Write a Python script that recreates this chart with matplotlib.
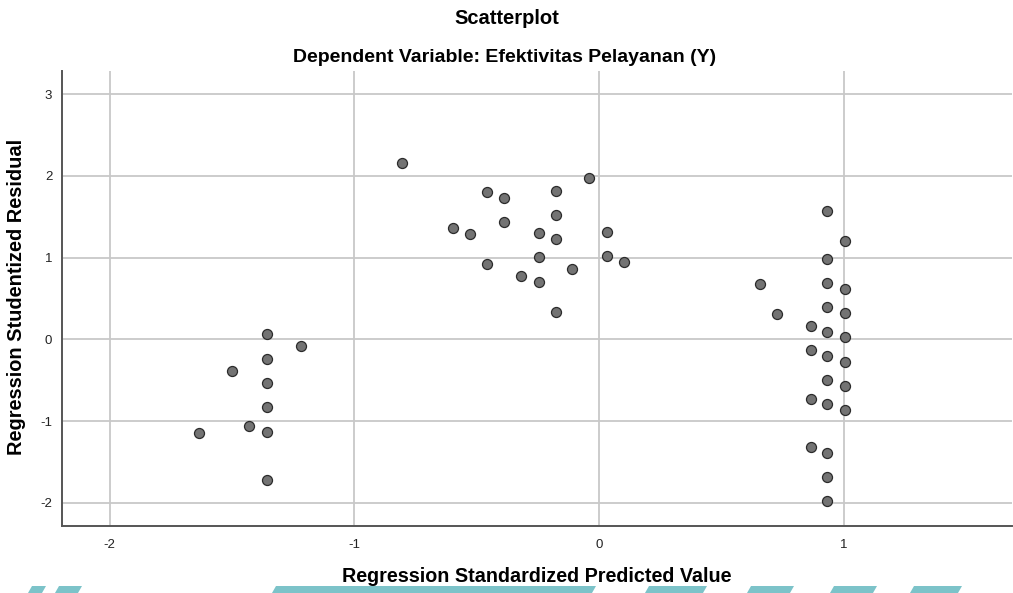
import matplotlib
matplotlib.use("Agg")
import matplotlib.pyplot as plt
from matplotlib.patches import Polygon

plt.rcParams['font.family'] = ['Liberation Sans', 'DejaVu Sans']

# Data
pred = [-1.358, -1.219, -1.358, -1.499, -1.358, -1.358, -1.429, -1.358, -1.636, -1.358,
        -0.804, -0.040, -0.456, -0.177, -0.387, -0.177, -0.387, -0.595, -0.526, -0.247,
        -0.177, 0.031, -0.247, 0.031, 0.101, -0.456, -0.109, -0.318, -0.247, -0.177,
        0.933, 1.004, 0.933, 0.657, 0.933, 1.004, 0.726, 0.933, 1.004, 0.865,
        0.933, 1.004, 0.865, 0.933, 1.004, 0.933, 1.004, 0.865, 0.933, 1.004,
        0.865, 0.933, 0.933, 0.933]
resid = [0.065, -0.078, -0.237, -0.392, -0.531, -0.829, -1.057, -1.131, -1.147, -1.726,
         2.162, 1.971, 1.807, 1.815, 1.733, 1.518, 1.436, 1.358, 1.285, 1.297,
         1.228, 1.310, 1.004, 1.016, 0.942, 0.918, 0.864, 0.779, 0.705, 0.338,
         1.574, 1.207, 0.983, 0.673, 0.685, 0.619, 0.306, 0.392, 0.318, 0.167,
         0.093, 0.024, -0.135, -0.200, -0.274, -0.498, -0.572, -0.727, -0.796, -0.866,
         -1.318, -1.392, -1.685, -1.983]
xticks = [-2, -1, 0, 1]
yticks = [-2, -1, 0, 1, 2, 3]

W, H = 1013, 593
fig = plt.figure(figsize=(W / 100, H / 100), dpi=100)
ax = fig.add_axes([62 / W, 1 - 526 / H, (1012 - 62) / W, (526 - 71) / H])

ax.set_xlim(-2.195, 1.688)
ax.set_ylim(-2.285, 3.284)
ax.set_xticks(xticks)
ax.set_yticks(yticks)
ax.set_xticklabels([str(t) for t in xticks])
ax.set_yticklabels([str(t) for t in yticks])
ax.grid(True, color='#c8c8c8', linewidth=1.3)
ax.set_axisbelow(True)
ax.tick_params(length=0, labelsize=9.5, colors='#222222', pad=9)
ax.tick_params(axis='y', pad=7)
for s in ['top', 'right']:
    ax.spines[s].set_visible(False)
for s in ['left', 'bottom']:
    ax.spines[s].set_color('#555555')
    ax.spines[s].set_linewidth(1.4)

ax.scatter(pred, resid, s=52, facecolor='#737373', edgecolor='#2b2b2b',
           linewidths=0.9, zorder=3)

fig.text(507 / W, 1 - 18 / H, 'Scatterplot', ha='center', va='center',
         fontsize=14.5, fontweight='bold')
fig.text(505 / W, 1 - 57 / H, 'Dependent Variable: Efektivitas Pelayanan (Y)',
         ha='center', va='center', fontsize=14, fontweight='bold')
fig.text(537 / W, 1 - 577 / H, 'Regression Standardized Predicted Value',
         ha='center', va='center', fontsize=14.2, fontweight='bold')
fig.text(17 / W, 1 - 297 / H, 'Regression Studentized Residual',
         ha='center', va='center', rotation=90, fontsize=14.4, fontweight='bold')

# teal watermark fragments at the bottom edge
segs = [(28, 42), (55, 78), (272, 340), (330, 592), (645, 672), (668, 703),
        (747, 790), (830, 873), (910, 958)]
for a, b in segs:
    y0, y1 = 1 - 593 / H, 1 - 586 / H
    poly = Polygon([(a / W, y0), (b / W, y0), ((b + 4) / W, y1), ((a + 4) / W, y1)],
                   closed=True, transform=fig.transFigure, facecolor='#7cc3c9',
                   edgecolor='none')
    fig.patches.append(poly)

fig.savefig('out.png', dpi=100)
